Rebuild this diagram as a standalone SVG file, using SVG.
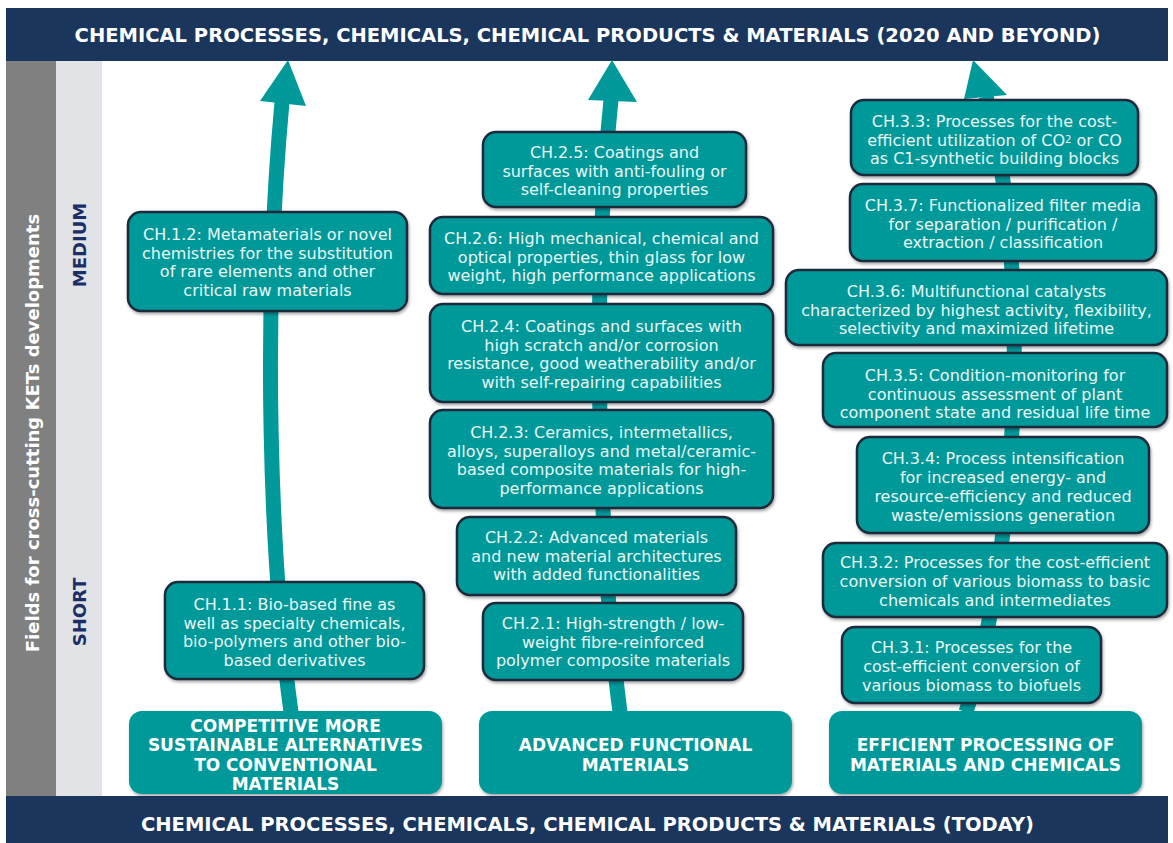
<svg xmlns="http://www.w3.org/2000/svg" width="1173" height="843" viewBox="0 0 1173 843">
  <defs>
    <filter id="shadow" x="-10%" y="-10%" width="120%" height="130%">
      <feDropShadow dx="1" dy="2" stdDeviation="1.5" flood-color="#000" flood-opacity="0.35"/>
    </filter>
    <linearGradient id="hlGrad" x1="0" y1="0" x2="0" y2="1">
      <stop offset="0" stop-color="#74f6f6" stop-opacity="0.2"/>
      <stop offset="0.2" stop-color="#74f6f6" stop-opacity="1"/>
      <stop offset="0.8" stop-color="#74f6f6" stop-opacity="1"/>
      <stop offset="1" stop-color="#74f6f6" stop-opacity="0.2"/>
    </linearGradient>
  </defs>
  <style>
    .banner { fill: #1b365d; }
    .bantext { font-family: "DejaVu Sans", Verdana, sans-serif; font-weight: bold; font-size: 19.5px; fill: #ffffff; text-anchor: middle; }
    .side { font-family: "DejaVu Sans", Verdana, sans-serif; font-weight: bold; font-size: 18px; text-anchor: middle; }
    .box { fill: #01999a; stroke: #1c2a3a; stroke-width: 2.5; filter: url(#shadow); }
    .hl { stroke: url(#hlGrad); stroke-width: 2.5; stroke-linecap: round; fill: none; }
    .t { font-family: "DejaVu Sans", Verdana, sans-serif; font-size: 16px; fill: #eaf6f6; text-anchor: middle; }
    .cat { fill: #01999a; filter: url(#shadow); }
    .cattext { font-family: "DejaVu Sans", Verdana, sans-serif; font-weight: bold; font-size: 17px; fill: #ffffff; text-anchor: middle; }
    .shaft { fill: none; stroke: #01999a; stroke-width: 15; }
    .head { fill: #01999a; }
  </style>

  <!-- background -->
  <rect x="0" y="0" width="1173" height="843" fill="#ffffff"/>

  <!-- left axis strips -->
  <g id="axis">
    <rect x="6" y="61" width="50" height="735" fill="#808080"/>
    <rect x="56" y="61" width="46" height="735" fill="#e1e3e7"/>
    <text class="side" transform="translate(39,433) rotate(-90)" fill="#ffffff" font-size="19">Fields for cross-cutting KETs developments</text>
    <text class="side" transform="translate(86,245) rotate(-90)" fill="#1b2f66">MEDIUM</text>
    <text class="side" transform="translate(86,612) rotate(-90)" fill="#1b2f66">SHORT</text>
  </g>

  <!-- banners -->
  <g id="banner-top">
    <rect class="banner" x="6" y="8" width="1162" height="53"/>
    <text class="bantext" x="587.5" y="42">CHEMICAL PROCESSES, CHEMICALS, CHEMICAL PRODUCTS &amp; MATERIALS (2020 AND BEYOND)</text>
  </g>
  <g id="banner-bottom">
    <rect class="banner" x="6" y="796" width="1162" height="47"/>
    <text class="bantext" x="587.5" y="831">CHEMICAL PROCESSES, CHEMICALS, CHEMICAL PRODUCTS &amp; MATERIALS (TODAY)</text>
  </g>

  <!-- connectors: the three roadmap arrows -->
  <g id="connectors">
    <path class="shaft" d="M 291 712 C 270 560, 262 320, 282 102"/>
    <polygon class="head" points="288,60 260,101 306,106"/>
    <path class="shaft" d="M 620 712 C 600 560, 590 300, 611 100"/>
    <polygon class="head" points="612,60 588,100 637,102"/>
    <path class="shaft" d="M 966 712 C 1015 560, 1035 280, 986 96"/>
    <polygon class="head" points="973,60 964,99 1007,95"/>
  </g>

  <!-- column 1 -->
  <g id="ch-1-2">
    <rect class="box" x="128" y="212" width="279" height="99" rx="13"/>
    <line class="hl" x1="133" y1="222" x2="133" y2="301"/>
    <line class="hl" x1="402" y1="222" x2="402" y2="301"/>
    <text class="t" x="267.5" y="240">CH.1.2: Metamaterials or novel<tspan x="267.5" dy="18.7">chemistries for the substitution</tspan><tspan x="267.5" dy="18.7">of rare elements and other</tspan><tspan x="267.5" dy="18.7">critical raw materials</tspan></text>
  </g>
  <g id="ch-1-1">
    <rect class="box" x="165" y="582" width="259" height="97" rx="13"/>
    <line class="hl" x1="170" y1="592" x2="170" y2="669"/>
    <line class="hl" x1="419" y1="592" x2="419" y2="669"/>
    <text class="t" x="294.5" y="610">CH.1.1: Bio-based fine as<tspan x="294.5" dy="18.7">well as specialty chemicals,</tspan><tspan x="294.5" dy="18.7">bio-polymers and other bio-</tspan><tspan x="294.5" dy="18.7">based derivatives</tspan></text>
  </g>
  <g id="cat-1">
    <rect class="cat" x="129" y="711" width="313" height="83" rx="13"/>
    <text class="cattext" x="285.5" y="732">COMPETITIVE MORE<tspan x="285.5" dy="19.3">SUSTAINABLE ALTERNATIVES</tspan><tspan x="285.5" dy="19.3">TO CONVENTIONAL</tspan><tspan x="285.5" dy="19.3">MATERIALS</tspan></text>
  </g>

  <!-- column 2 -->
  <g id="ch-2-5">
    <rect class="box" x="483" y="132" width="263" height="75" rx="13"/>
    <line class="hl" x1="488" y1="142" x2="488" y2="197"/>
    <line class="hl" x1="741" y1="142" x2="741" y2="197"/>
    <text class="t" x="614.5" y="158">CH.2.5: Coatings and<tspan x="614.5" dy="18.7">surfaces with anti-fouling or</tspan><tspan x="614.5" dy="18.7">self-cleaning properties</tspan></text>
  </g>
  <g id="ch-2-6">
    <rect class="box" x="430" y="217" width="343" height="77" rx="13"/>
    <line class="hl" x1="435" y1="227" x2="435" y2="284"/>
    <line class="hl" x1="768" y1="227" x2="768" y2="284"/>
    <text class="t" x="601.5" y="244">CH.2.6: High mechanical, chemical and<tspan x="601.5" dy="18.7">optical properties, thin glass for low</tspan><tspan x="601.5" dy="18.7">weight, high performance applications</tspan></text>
  </g>
  <g id="ch-2-4">
    <rect class="box" x="430" y="304" width="343" height="98" rx="13"/>
    <line class="hl" x1="435" y1="314" x2="435" y2="392"/>
    <line class="hl" x1="768" y1="314" x2="768" y2="392"/>
    <text class="t" x="601.5" y="332">CH.2.4: Coatings and surfaces with<tspan x="601.5" dy="18.7">high scratch and/or corrosion</tspan><tspan x="601.5" dy="18.7">resistance, good weatherability and/or</tspan><tspan x="601.5" dy="18.7">with self-repairing capabilities</tspan></text>
  </g>
  <g id="ch-2-3">
    <rect class="box" x="430" y="410" width="343" height="98" rx="13"/>
    <line class="hl" x1="435" y1="420" x2="435" y2="498"/>
    <line class="hl" x1="768" y1="420" x2="768" y2="498"/>
    <text class="t" x="601.5" y="438">CH.2.3: Ceramics, intermetallics,<tspan x="601.5" dy="18.7">alloys, superalloys and metal/ceramic-</tspan><tspan x="601.5" dy="18.7">based composite materials for high-</tspan><tspan x="601.5" dy="18.7">performance applications</tspan></text>
  </g>
  <g id="ch-2-2">
    <rect class="box" x="457" y="517" width="279" height="78" rx="13"/>
    <line class="hl" x1="462" y1="527" x2="462" y2="585"/>
    <line class="hl" x1="731" y1="527" x2="731" y2="585"/>
    <text class="t" x="596.5" y="543">CH.2.2: Advanced materials<tspan x="596.5" dy="18.7">and new material architectures</tspan><tspan x="596.5" dy="18.7">with added functionalities</tspan></text>
  </g>
  <g id="ch-2-1">
    <rect class="box" x="483" y="603" width="260" height="77" rx="13"/>
    <line class="hl" x1="488" y1="613" x2="488" y2="670"/>
    <line class="hl" x1="738" y1="613" x2="738" y2="670"/>
    <text class="t" x="613" y="629">CH.2.1: High-strength / low-<tspan x="613" dy="18.7">weight fibre-reinforced</tspan><tspan x="613" dy="18.7">polymer composite materials</tspan></text>
  </g>
  <g id="cat-2">
    <rect class="cat" x="479" y="711" width="313" height="83" rx="13"/>
    <text class="cattext" x="635.5" y="751">ADVANCED FUNCTIONAL<tspan x="635.5" dy="20">MATERIALS</tspan></text>
  </g>

  <!-- column 3 -->
  <g id="ch-3-3">
    <rect class="box" x="851" y="100" width="287" height="75" rx="13"/>
    <line class="hl" x1="856" y1="110" x2="856" y2="165"/>
    <line class="hl" x1="1133" y1="110" x2="1133" y2="165"/>
    <text class="t" x="994.5" y="127">CH.3.3: Processes for the cost-<tspan x="994.5" dy="18.7">efficient utilization of CO<tspan font-size="10" dy="-3">2</tspan><tspan dy="3"> or CO</tspan></tspan><tspan x="994.5" dy="18.7">as C1-synthetic building blocks</tspan></text>
  </g>
  <g id="ch-3-7">
    <rect class="box" x="850" y="184" width="306" height="77" rx="13"/>
    <line class="hl" x1="855" y1="194" x2="855" y2="251"/>
    <line class="hl" x1="1151" y1="194" x2="1151" y2="251"/>
    <text class="t" x="1003" y="211">CH.3.7: Functionalized filter media<tspan x="1003" dy="18.7">for separation / purification /</tspan><tspan x="1003" dy="18.7">extraction / classification</tspan></text>
  </g>
  <g id="ch-3-6">
    <rect class="box" x="786" y="270" width="381" height="75" rx="13"/>
    <line class="hl" x1="791" y1="280" x2="791" y2="335"/>
    <line class="hl" x1="1162" y1="280" x2="1162" y2="335"/>
    <text class="t" x="976.5" y="297">CH.3.6: Multifunctional catalysts<tspan x="976.5" dy="18.7">characterized by highest activity, flexibility,</tspan><tspan x="976.5" dy="18.7">selectivity and maximized lifetime</tspan></text>
  </g>
  <g id="ch-3-5">
    <rect class="box" x="823" y="353" width="344" height="74" rx="13"/>
    <line class="hl" x1="828" y1="363" x2="828" y2="417"/>
    <line class="hl" x1="1162" y1="363" x2="1162" y2="417"/>
    <text class="t" x="995" y="381">CH.3.5: Condition-monitoring for<tspan x="995" dy="18.7">continuous assessment of plant</tspan><tspan x="995" dy="18.7">component state and residual life time</tspan></text>
  </g>
  <g id="ch-3-4">
    <rect class="box" x="857" y="437" width="292" height="96" rx="13"/>
    <line class="hl" x1="862" y1="447" x2="862" y2="523"/>
    <line class="hl" x1="1144" y1="447" x2="1144" y2="523"/>
    <text class="t" x="1003" y="464">CH.3.4: Process intensification<tspan x="1003" dy="18.9">for increased energy- and</tspan><tspan x="1003" dy="18.9">resource-efficiency and reduced</tspan><tspan x="1003" dy="18.9">waste/emissions generation</tspan></text>
  </g>
  <g id="ch-3-2">
    <rect class="box" x="823" y="543" width="344" height="74" rx="13"/>
    <line class="hl" x1="828" y1="553" x2="828" y2="607"/>
    <line class="hl" x1="1162" y1="553" x2="1162" y2="607"/>
    <text class="t" x="995" y="568">CH.3.2: Processes for the cost-efficient<tspan x="995" dy="18.9">conversion of various biomass to basic</tspan><tspan x="995" dy="18.9">chemicals and intermediates</tspan></text>
  </g>
  <g id="ch-3-1">
    <rect class="box" x="842" y="627" width="259" height="76" rx="13"/>
    <line class="hl" x1="847" y1="637" x2="847" y2="693"/>
    <line class="hl" x1="1096" y1="637" x2="1096" y2="693"/>
    <text class="t" x="971.5" y="653">CH.3.1: Processes for the<tspan x="971.5" dy="18.9">cost-efficient conversion of</tspan><tspan x="971.5" dy="18.9">various biomass to biofuels</tspan></text>
  </g>
  <g id="cat-3">
    <rect class="cat" x="829" y="711" width="313" height="83" rx="13"/>
    <text class="cattext" x="985.5" y="751">EFFICIENT PROCESSING OF<tspan x="985.5" dy="20">MATERIALS AND CHEMICALS</tspan></text>
  </g>
</svg>
